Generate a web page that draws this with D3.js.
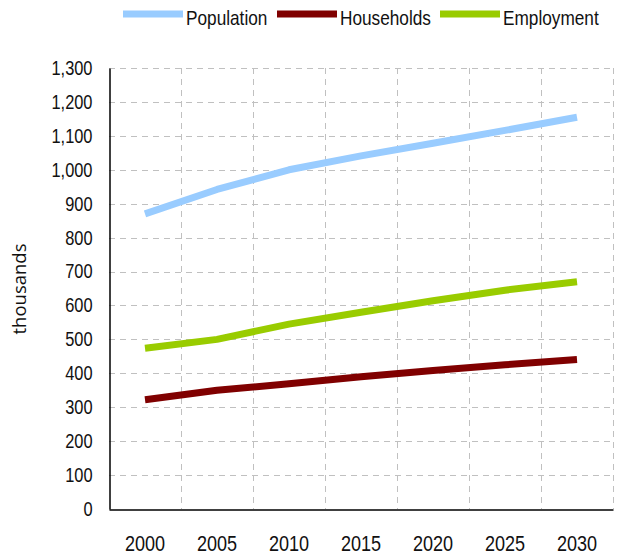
<!DOCTYPE html>
<html>
<head>
<meta charset="utf-8">
<script src="https://cdn.jsdelivr.net/npm/d3@7"></script>
<style>
  html, body { margin: 0; padding: 0; background: #fff; }
  svg { display: block; }
  text { font-family: "Liberation Sans Narrow", "Arial Narrow", "Liberation Sans", Arial, sans-serif; fill: #111; }
</style>
</head>
<body>
<svg id="chart" width="623" height="556"></svg>
<script>
// Forecast series, in thousands
const years = ["2000", "2005", "2010", "2015", "2020", "2025", "2030"];
const population = [870, 942, 1000, 1041, 1078, 1116, 1155];
const households = [322, 350, 369, 390, 408, 425, 441];
const employment = [474, 500, 545, 580, 614, 645, 670];
const yTicks = [0, 100, 200, 300, 400, 500, 600, 700, 800, 900, 1000, 1100, 1200, 1300];

const seriesList = [
  { name: "Population", values: population, color: "#99ccff" },
  { name: "Households", values: households, color: "#800000" },
  { name: "Employment", values: employment, color: "#99cc00" }
];

const svg = d3.select("#chart");
const plot = { left: 109, right: 613, top: 68, bottom: 509 };

// squeeze regular sans text to a narrow face's width
function narrow(sel, factor = 0.82) {
  sel.each(function () {
    const w = this.getComputedTextLength();
    d3.select(this).attr("textLength", w * factor).attr("lengthAdjust", "spacingAndGlyphs");
  });
}

const x = d3.scaleBand().domain(years).range([plot.left, plot.right]).padding(0);
const y = d3.scaleLinear().domain([0, 1300]).range([plot.bottom, plot.top]);

const grid = svg.append("g").attr("stroke", "#c0c0c0").attr("stroke-width", 1)
  .attr("stroke-dasharray", "6,5");

// horizontal dashed gridlines
grid.selectAll("line.h").data(yTicks.filter(d => d > 0)).join("line")
  .attr("class", "h")
  .attr("x1", plot.left).attr("x2", plot.right)
  .attr("y1", d => Math.round(y(d)) + 0.5).attr("y2", d => Math.round(y(d)) + 0.5);

// vertical dashed gridlines at category boundaries
grid.selectAll("line.v").data(years).join("line")
  .attr("class", "v")
  .attr("x1", d => Math.round(x(d) + x.bandwidth()) + 0.5)
  .attr("x2", d => Math.round(x(d) + x.bandwidth()) + 0.5)
  .attr("y1", plot.top).attr("y2", plot.bottom);

// y axis
const yAxis = svg.append("g")
  .attr("transform", `translate(${plot.left + 0.5},0)`)
  .call(d3.axisLeft(y).tickValues(yTicks).tickSize(0).tickPadding(17)
    .tickFormat(d3.format(",")));
yAxis.select(".domain").attr("stroke", "#000").attr("stroke-width", 1.5);
yAxis.selectAll("text").attr("font-size", 20)
  .style("font-family", "'Liberation Sans', Arial, sans-serif").attr("fill", "#111")
  .call(narrow);

// x axis
const xAxis = svg.append("g")
  .attr("transform", `translate(0,${plot.bottom + 0.5})`)
  .call(d3.axisBottom(x).tickSize(0).tickPadding(26));
xAxis.select(".domain").attr("stroke", "#000").attr("stroke-width", 1.5);
xAxis.selectAll("text").attr("font-size", 22)
  .style("font-family", "'Liberation Sans', Arial, sans-serif").attr("fill", "#111")
  .call(narrow);

// y axis title
svg.append("text")
  .attr("transform", "translate(26,289) rotate(-90)")
  .attr("text-anchor", "middle")
  .attr("font-size", 18.5)
  .style("font-family", "'Open Sans', 'DejaVu Sans', sans-serif")
  .text("thousands");

// series lines
const line = d3.line()
  .x((d, i) => x(years[i]) + x.bandwidth() / 2)
  .y(d => y(d));

svg.append("g").selectAll("path").data(seriesList).join("path")
  .attr("fill", "none")
  .attr("stroke", d => d.color)
  .attr("stroke-width", 7)
  .attr("stroke-linejoin", "round")
  .attr("d", d => line(d.values));

// legend
const legendX = [123, 277, 440];
const legend = svg.append("g");
seriesList.forEach((s, i) => {
  legend.append("line")
    .attr("x1", legendX[i]).attr("x2", legendX[i] + 60)
    .attr("y1", 14).attr("y2", 14)
    .attr("stroke", s.color).attr("stroke-width", 7);
  legend.append("text")
    .attr("x", legendX[i] + 63).attr("y", 24.5)
    .attr("font-size", 21)
    .style("font-family", "'Liberation Sans', Arial, sans-serif")
    .text(s.name)
    .call(narrow);
});
</script>
</body>
</html>
